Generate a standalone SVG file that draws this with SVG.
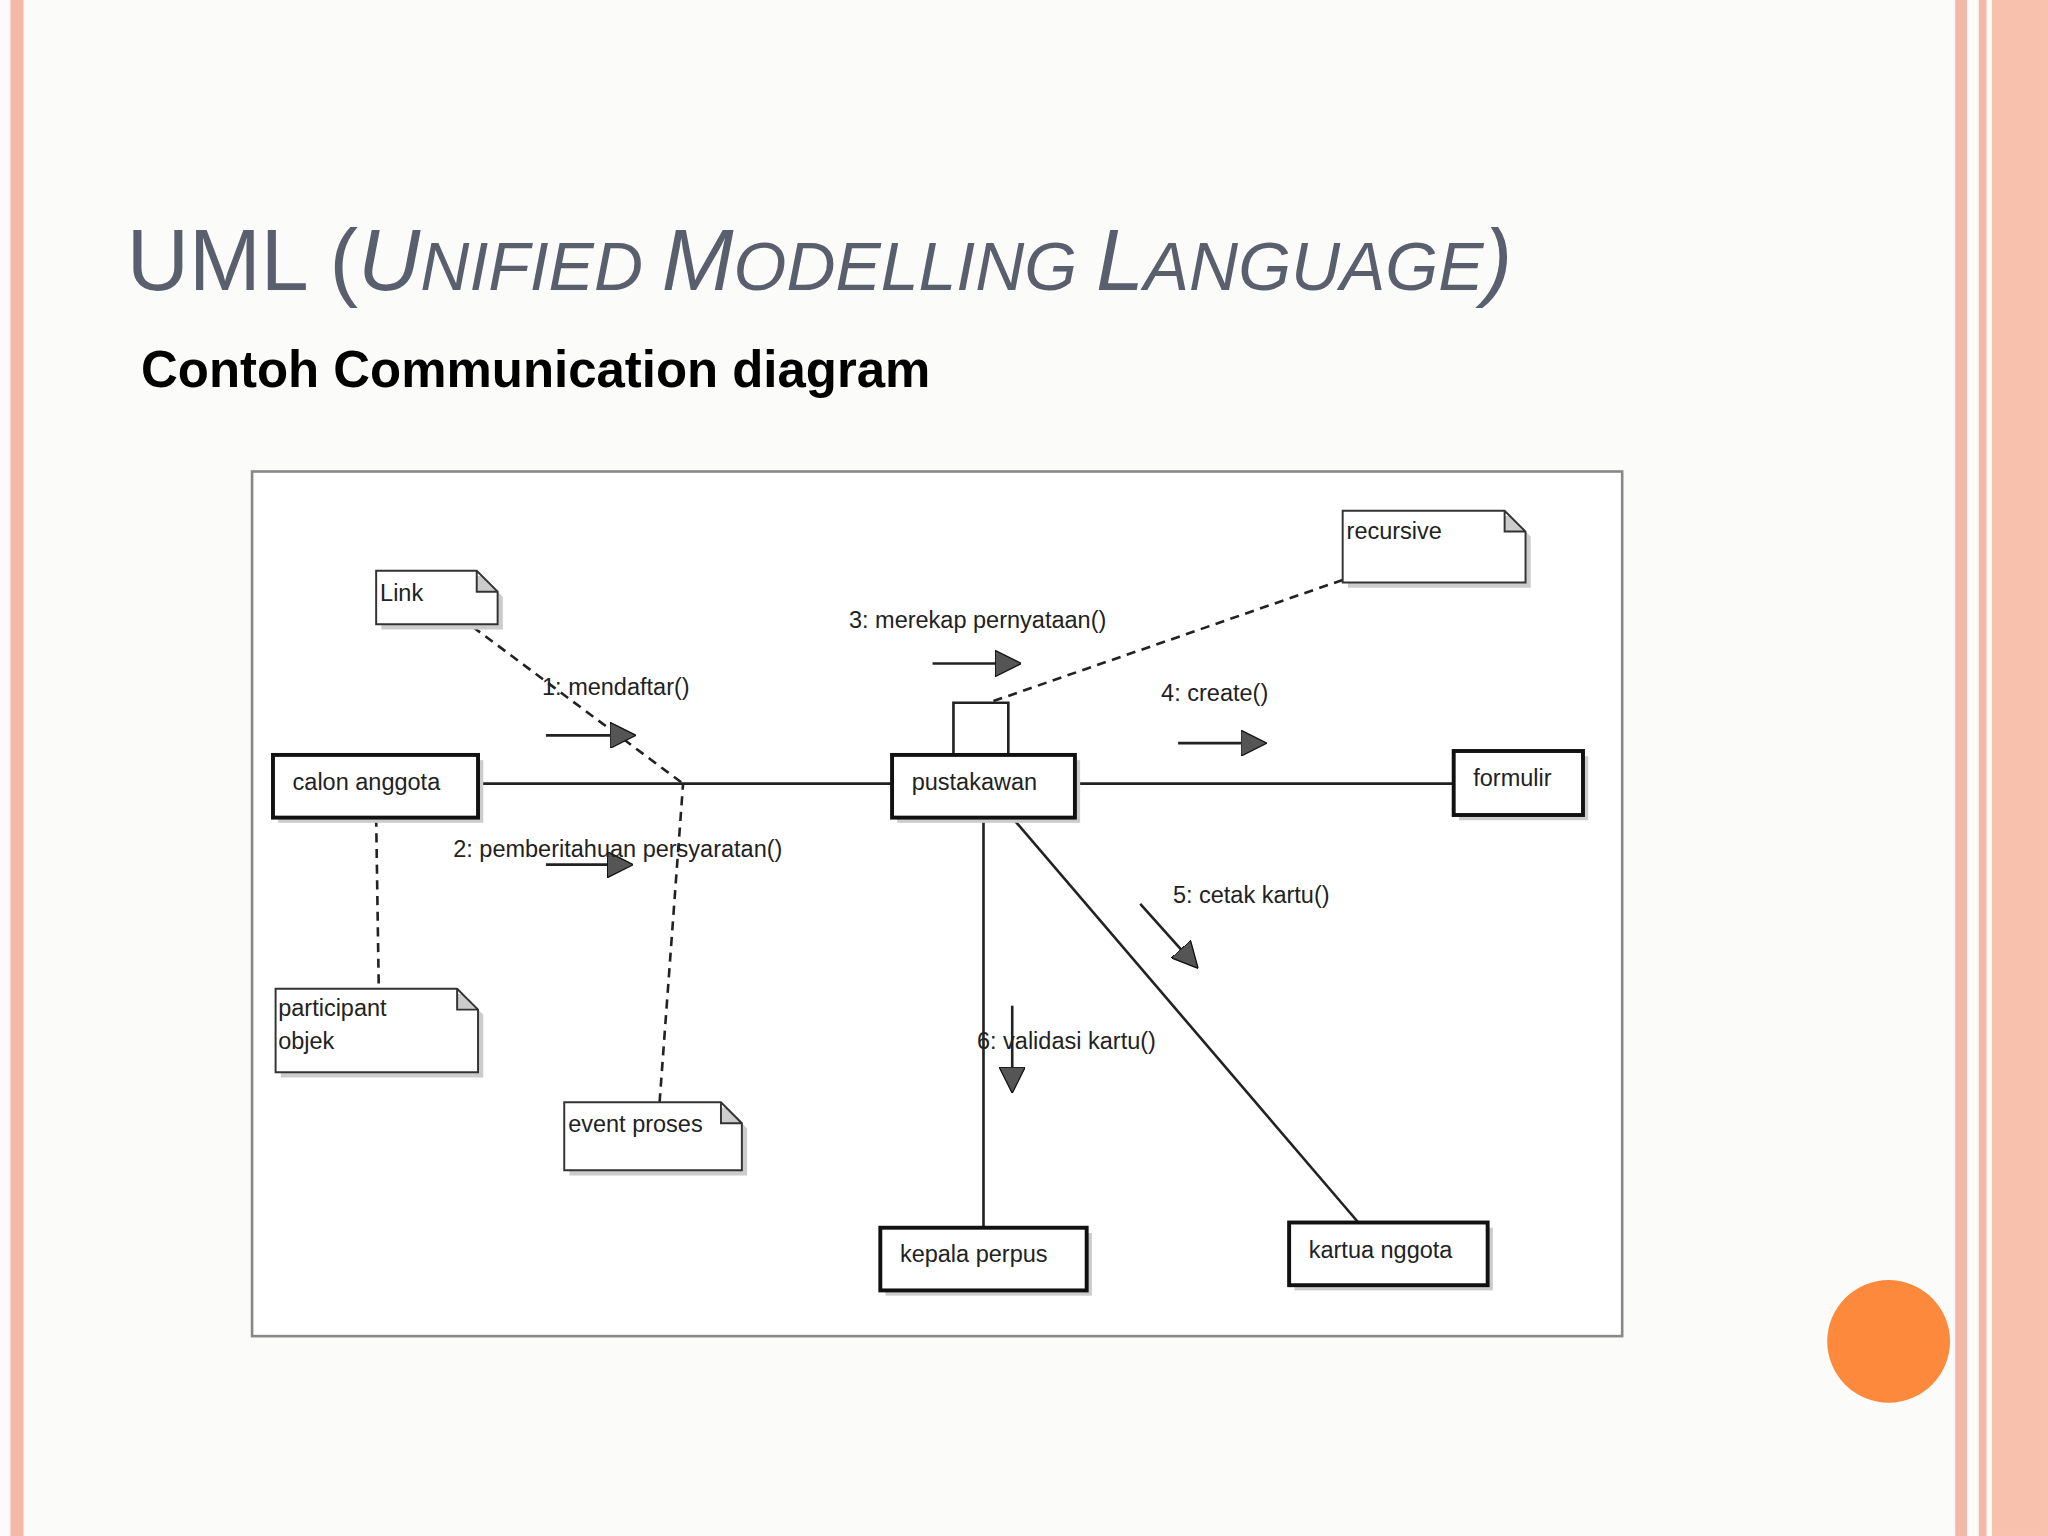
<svg xmlns="http://www.w3.org/2000/svg" width="2048" height="1536" viewBox="0 0 2048 1536">
<defs>
<style>
.t{font-family:"Liberation Sans",Arial,sans-serif;font-size:18px;fill:#222}
.box{fill:#fff;stroke:#111;stroke-width:3}
.sh{fill:#ccc}
.note{fill:#fff;stroke:#333;stroke-width:1.5}
.ln{stroke:#222;stroke-width:2;fill:none}
.dash{stroke:#222;stroke-width:2;fill:none;stroke-dasharray:7,5}
.msg{stroke:#222;stroke-width:2;fill:none;marker-end:url(#ah)}
</style>
<marker id="ah" viewBox="0 0 10 10" refX="9" refY="5" markerWidth="20" markerHeight="20" markerUnits="userSpaceOnUse" orient="auto">
<path d="M0,0L10,5L0,10Z" fill="#555" stroke="#111" stroke-width="0.5"/>
</marker>
</defs>
<rect width="2048" height="1536" fill="#fbfbf9"/>
<g transform="scale(1.3061)">
<rect x="8" y="0" width="10" height="1176" fill="#f4b8a6"/>
<rect x="1497" y="0" width="9" height="1176" fill="#f4b8a6"/>
<rect x="1515" y="0" width="6" height="1176" fill="#f4b8a6"/>
<rect x="1525" y="0" width="43" height="1176" fill="#f7c1ae"/>
<text x="97" y="222" font-family="Liberation Sans,Arial,sans-serif" fill="#5a5f6e" font-size="66">UML (<tspan font-style="italic">U</tspan><tspan font-style="italic" font-size="52">NIFIED </tspan><tspan font-style="italic">M</tspan><tspan font-style="italic" font-size="52">ODELLING </tspan><tspan font-style="italic">L</tspan><tspan font-style="italic" font-size="52">ANGUAGE</tspan><tspan font-style="italic">)</tspan></text>
<text x="108" y="296" font-family="Liberation Sans,Arial,sans-serif" font-weight="bold" font-size="39" fill="#000">Contoh Communication diagram</text>
<rect x="193" y="361" width="1049" height="662" fill="#fff" stroke="#888" stroke-width="2"/>
<g id="connectors">
<line class="ln" x1="366" y1="600" x2="683" y2="600"/>
<line class="ln" x1="823" y1="600" x2="1113" y2="600"/>
<line class="ln" x1="753" y1="626" x2="753" y2="940"/>
<line class="ln" x1="775" y1="626" x2="1040" y2="936"/>
<path class="ln" d="M730,578V538H772V578"/>
<line class="dash" x1="362" y1="480" x2="523" y2="600"/>
<line class="dash" x1="505" y1="844" x2="523" y2="600"/>
<line class="dash" x1="288" y1="626" x2="290" y2="757"/>
<line class="dash" x1="1028" y1="444" x2="757" y2="538"/>
<line class="msg" x1="418" y1="563" x2="485" y2="563"/>
<line class="msg" x1="418" y1="662" x2="483" y2="662"/>
<line class="msg" x1="714" y1="508" x2="780" y2="508"/>
<line class="msg" x1="902" y1="569" x2="968" y2="569"/>
<line class="msg" x1="873" y1="692" x2="916" y2="740"/>
<line class="msg" x1="775" y1="770" x2="775" y2="835"/>
<text class="t" x="415" y="532">1: mendaftar()</text>
<text class="t" x="347" y="656">2: pemberitahuan persyaratan()</text>
<text class="t" x="650" y="481">3: merekap pernyataan()</text>
<text class="t" x="889" y="537">4: create()</text>
<text class="t" x="898" y="691">5: cetak kartu()</text>
<text class="t" x="748" y="803">6: validasi kartu()</text>
</g>
<g id="calon"><rect class="sh" x="213" y="582" width="157" height="48"/><rect class="box" x="209" y="578" width="157" height="48"/><text class="t" x="224" y="605">calon anggota</text></g>
<g id="pustakawan"><rect class="sh" x="687" y="582" width="140" height="48"/><rect class="box" x="683" y="578" width="140" height="48"/><text class="t" x="698" y="605">pustakawan</text></g>
<g id="formulir"><rect class="sh" x="1117" y="579" width="99" height="49"/><rect class="box" x="1113" y="575" width="99" height="49"/><text class="t" x="1128" y="602">formulir</text></g>
<g id="kepala"><rect class="sh" x="678" y="944" width="158" height="48"/><rect class="box" x="674" y="940" width="158" height="48"/><text class="t" x="689" y="966">kepala perpus</text></g>
<g id="kartua"><rect class="sh" x="991" y="940" width="152" height="48"/><rect class="box" x="987" y="936" width="152" height="48"/><text class="t" x="1002" y="963">kartua nggota</text></g>
<g id="note-link"><path class="sh" d="M292,441H369L385,457V482H292Z"/><path class="note" d="M288,437H365L381,453V478H288Z M365,437V453H381"/><text class="t" x="291" y="460">Link</text></g>
<g id="note-recursive"><path class="sh" d="M1032,395H1156L1172,411V450H1032Z"/><path class="note" d="M1028,391H1152L1168,407V446H1028Z M1152,391V407H1168"/><text class="t" x="1031" y="413">recursive</text></g>
<g id="note-participant"><path class="sh" d="M215,761H354L370,777V825H215Z"/><path class="note" d="M211,757H350L366,773V821H211Z M350,757V773H366"/><text class="t" x="213" y="778">participant</text><text class="t" x="213" y="803">objek</text></g>
<g id="note-event"><path class="sh" d="M436,848H556L572,864V900H436Z"/><path class="note" d="M432,844H552L568,860V896H432Z M552,844V860H568"/><text class="t" x="435" y="867">event proses</text></g>
<circle cx="1446" cy="1027" r="47" fill="#fd8a3c"/>
</g>
</svg>
